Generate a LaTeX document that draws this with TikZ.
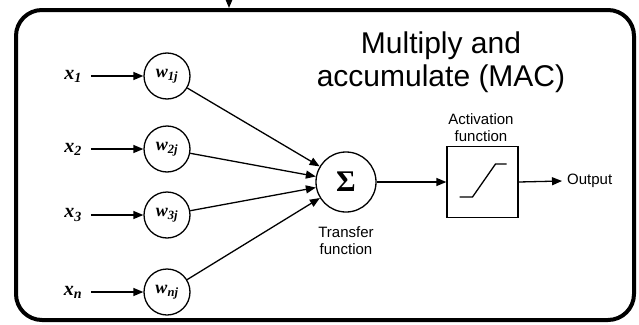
\documentclass[tikz,border=0pt]{standalone}
\usepackage{fontspec}
\setmainfont{Liberation Serif}
\newfontfamily\sansf{Liberation Sans}
\usetikzlibrary{arrows.meta}
\begin{document}
\begin{tikzpicture}[x=1pt,y=-1pt,
  arr/.style={-{Triangle[length=10pt,width=8pt]}, line width=1.3pt},
  wcirc/.style={circle, draw, line width=1.3pt, minimum size=46pt, inner sep=0pt, font=\fontsize{18}{18}\selectfont\bfseries\itshape},
  xlab/.style={font=\fontsize{20}{20}\selectfont\bfseries\itshape, inner sep=0pt},
  lbl/.style={font=\sansf\fontsize{15}{17}\selectfont, align=center, inner sep=0pt},
]
\useasboundingbox (0,0) rectangle (639,324);
\node[draw, line width=4pt, rounded corners=26pt, minimum width=618pt, minimum height=310pt, inner sep=0pt] (frame) at (325,165) {};
\coordinate (top) at (229,-2);
\draw[arr] (top) -- (top |- frame.north);

\node[font=\sansf\fontsize{30}{33}\selectfont, align=center, inner sep=0pt] (mac) at (441,62) {Multiply and\\accumulate (MAC)};

\node[xlab] (x1) at (73,76) {x\textsubscript{1}};
\node[xlab] (x2) at (73,149) {x\textsubscript{2}};
\node[xlab] (x3) at (73,215) {x\textsubscript{3}};
\node[xlab] (xn) at (73,292) {x\textsubscript{n}};

\node[wcirc] (w1) at (167,76) {w\textsubscript{1j}};
\node[wcirc] (w2) at (167,149) {w\textsubscript{2j}};
\node[wcirc] (w3) at (167,215) {w\textsubscript{3j}};
\node[wcirc] (wn) at (167,292) {w\textsubscript{nj}};

\foreach \i in {1,2,3,n}{
  \draw[arr] ([xshift=9pt]x\i.east |- w\i) -- (w\i.west);
}

\node[circle, draw, line width=1.3pt, minimum size=60pt, inner sep=0pt, font=\fontsize{30}{30}\selectfont\bfseries] (sig) at (346,182) {Σ};
\foreach \i in {1,2,3,n}{
  \draw[arr] (w\i) -- (sig);
}
\node[lbl] (tf) at (346,241) {Transfer\\function};

\node[draw, line width=1.3pt, minimum size=71pt, inner sep=0pt] (act) at (482.5,182) {};
\node[lbl] (af) at (481,128) {Activation\\function};
\draw[line width=1.3pt] ([shift={(-23,15)}]act.center) -- ++(13,0) -- ++(23,-33) -- ++(11,0);
\draw[arr] (sig.east) -- (act.west |- sig.east);

\node[lbl, anchor=west] (out) at (567,181) {Output};
\draw[arr] (act.east) -- ([xshift=-5pt]out.west);
\end{tikzpicture}
\end{document}
